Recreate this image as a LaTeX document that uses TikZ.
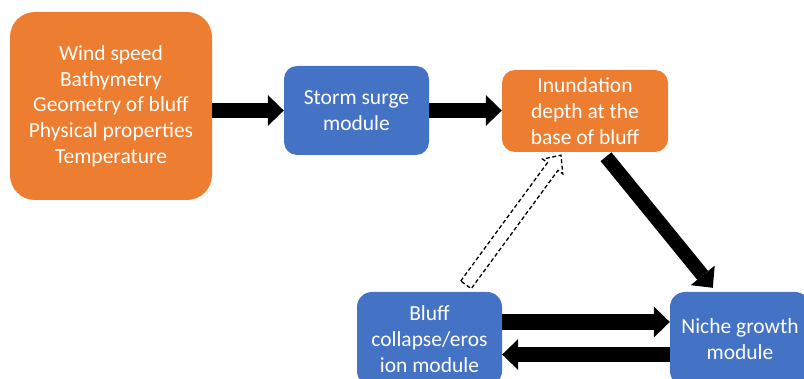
\documentclass[tikz,border=0pt]{standalone}
\usepackage{fontspec}
\setmainfont{Carlito}
\usetikzlibrary{arrows.meta,calc}
\definecolor{boxorange}{HTML}{ED7D31}
\definecolor{boxblue}{HTML}{4472C4}
\begin{document}
\begin{tikzpicture}[x=1pt,y=-1pt,
  module/.style={rectangle, rounded corners=13pt, fill=#1, text=white,
    align=center, inner sep=0pt, font=\fontsize{21.5}{25.7}\selectfont},
  flow/.style={draw=black, line width=15.5pt,
    -{Triangle[length=16pt, width=31pt, line width=0pt]}},
  feedback/.style={draw=black, fill=white, line width=1.3pt,
    dash pattern=on 4pt off 2.5pt, line join=miter}]
\useasboundingbox (0,0) rectangle (804,379);
\clip (0,0) rectangle (804,379);

% modules and data boxes
\node[module=boxorange, minimum width=202pt, minimum height=188pt,
  rounded corners=25pt] (inputs) at (111,106)
  {Wind speed\\Bathymetry\\Geometry of bluff\\Physical properties\\Temperature};
\node[module=boxblue, minimum width=145pt, minimum height=89pt] (storm)
  at (356.5,110.5) {Storm surge\\module};
\node[module=boxorange, minimum width=166pt, minimum height=82pt] (inund)
  at (585,111) {Inundation\\depth at the\\base of bluff};
\node[module=boxblue, minimum width=145pt, minimum height=94pt,
  rounded corners=15pt] (bluff) at (429.5,339) {Bluff\\collapse/eros\\ion module};
\node[module=boxblue, minimum width=140pt, minimum height=94pt,
  rounded corners=15pt] (niche) at (740,339) {Niche growth\\module};

% main flow
\draw[flow] (inputs.east |- storm.west) -- (storm.west);
\draw[flow] (storm.east) -- (storm.east -| inund.west);
\coordinate (dstart) at ($(inund.south)+(21,4.5)$);
\coordinate (dend) at ($(niche.north west)+(43,-4)$);
\draw[flow, line width=14pt] (dstart) -- (dend);
\draw[flow] ([yshift=17pt]bluff.east) -- ([yshift=17pt]niche.west);
\draw[flow] ([yshift=-15.5pt]niche.west) -- ([yshift=-15.5pt]bluff.east);

% feedback from bluff collapse to inundation depth (outlined, dashed)
\coordinate (ftail) at ($(bluff.north)+(36.5,-7)$);
\coordinate (ftip) at ($(inund.south)+(-24,3)$);
\coordinate (fbase) at ($(ftip)!14pt!(ftail)$);
\draw[feedback]
  ($(ftail)!6.5pt!90:(ftip)$) -- ($(fbase)!6.5pt!90:(ftip)$)
  -- ($(fbase)!12.5pt!90:(ftip)$) -- (ftip)
  -- ($(fbase)!12.5pt!-90:(ftip)$) -- ($(fbase)!6.5pt!-90:(ftip)$)
  -- ($(ftail)!6.5pt!-90:(ftip)$) -- cycle;
\end{tikzpicture}
\end{document}
